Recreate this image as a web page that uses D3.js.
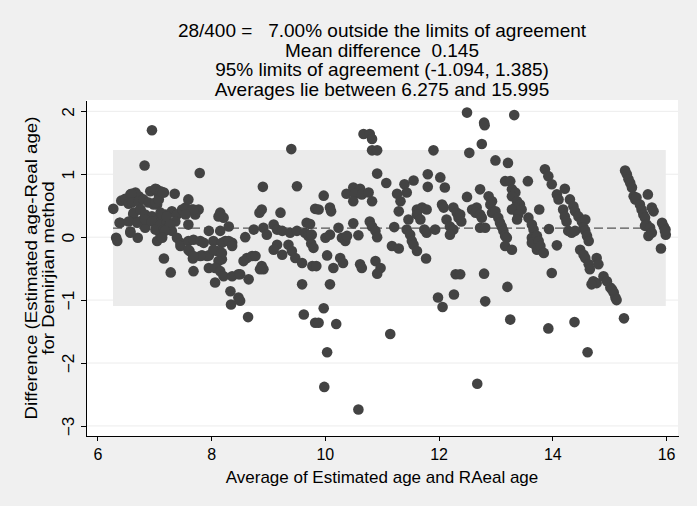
<!DOCTYPE html>
<html>
<head>
<meta charset="utf-8">
<title>Bland-Altman plot</title>
<script src="https://d3js.org/d3.v7.min.js"></script>
<style>
  html, body { margin: 0; padding: 0; background: #f0f0f0; }
  text { font-family: "Liberation Sans", Arial, sans-serif; fill: #000; }
  .axis path, .axis line { stroke: #000; shape-rendering: crispEdges; }
</style>
</head>
<body>
<script>
// averages (x) and differences (y)
var meanAge = [
  6.28,6.33,6.35,6.39,6.42,6.49,6.58,6.67,6.73,6.58,6.71,6.60,6.55,6.63,6.75,6.71,6.81,6.93,7.04,7.08,
  6.99,7.05,6.90,6.99,7.11,7.05,7.17,6.84,7.11,6.96,6.83,6.61,6.73,6.81,6.90,7.02,7.08,6.64,6.76,6.84,
  6.96,7.11,7.20,7.31,7.40,7.49,7.55,7.66,7.78,7.72,6.40,6.55,6.70,6.84,6.96,7.11,7.22,7.37,7.60,7.02,
  7.17,7.31,6.58,7.02,7.11,7.17,7.36,7.60,
  7.80,7.15,7.14,7.22,7.28,7.19,7.14,7.69,7.55,7.40,7.46,7.46,7.60,7.69,7.81,7.87,7.62,7.68,7.29,7.69,
  7.84,7.96,7.93,7.81,7.96,8.04,8.16,8.22,8.31,8.13,8.16,8.25,8.37,8.19,8.31,8.37,8.10,8.19,8.04,8.19,
  8.13,7.96,8.07,8.16,8.22,8.37,8.07,8.34,8.35,8.48,8.48,7.60,7.69,
  9.41,8.91,9.51,8.85,8.89,9.22,8.75,8.60,8.92,8.98,9.10,9.16,9.25,9.39,9.51,9.68,9.65,9.71,9.76,9.16,
  9.10,9.25,9.36,9.42,9.48,9.60,9.78,8.63,8.72,8.78,8.57,8.51,8.66,8.89,8.92,8.86,9.60,8.51,8.65,9.63,
  9.83,9.83,
  10.68,10.79,10.83,10.83,10.92,10.92,11.08,9.98,9.89,10.09,10.11,10.38,10.50,10.62,10.53,10.65,10.77,10.83,10.50,9.74,
  10.24,10.50,10.79,10.83,10.89,10.92,10.01,10.09,10.30,10.36,10.39,10.59,9.77,9.80,10.04,9.85,10.15,10.27,10.32,10.62,
  10.65,10.89,10.98,10.92,10.09,9.98,9.89,10.20,10.04,11.15,9.99,10.59,
  11.91,11.81,12.03,11.81,12.11,11.40,11.56,11.44,11.27,11.33,11.30,11.62,11.71,11.79,11.62,11.68,12.06,12.09,12.26,12.32,
  12.35,11.47,11.44,11.50,11.22,12.14,12.20,12.26,12.20,11.75,11.79,11.94,12.40,11.53,11.56,11.62,11.18,11.30,11.78,12.30,
  12.27,11.99,12.07,
  12.50,12.80,12.81,13.33,12.76,12.54,13.00,13.22,13.17,13.26,13.29,13.35,13.29,13.38,13.43,13.35,13.29,13.46,13.40,13.38,
  13.57,12.50,12.73,12.88,12.94,12.91,12.59,12.67,12.65,12.73,12.76,12.38,12.94,13.00,13.05,13.08,13.11,13.14,13.17,13.20,
  13.17,13.29,12.73,12.82,13.58,13.64,13.67,13.64,13.70,13.73,13.64,13.77,12.38,12.80,13.21,12.82,13.26,12.68,
  13.87,13.93,13.99,14.08,14.11,14.22,14.31,14.37,14.40,14.46,14.52,14.58,14.19,14.22,14.25,13.94,14.28,14.34,14.40,14.55,
  14.58,14.61,14.64,13.73,13.76,13.79,13.85,14.08,14.49,14.55,14.58,14.64,14.66,14.78,14.81,13.99,14.72,14.78,14.69,14.90,
  14.96,15.02,15.08,15.11,13.93,14.39,14.62,
  15.28,15.31,15.34,15.37,15.40,15.43,15.46,15.48,15.68,15.54,15.57,15.60,15.63,15.75,15.78,15.66,15.63,15.72,15.75,15.69,
  15.93,15.96,15.99,15.995,15.98,15.91,15.05,15.13,15.26
];
var diffAge = [
  0.45,-0.01,-0.06,0.23,0.58,0.61,0.68,0.71,0.65,0.09,-0.01,0.69,0.53,0.37,0.44,0.25,0.28,0.73,0.76,0.68,
  0.52,0.52,0.28,0.28,0.31,-0.06,-0.34,0.15,0.04,1.70,1.14,0.55,0.57,0.60,0.55,0.55,0.60,0.39,0.44,0.36,
  0.33,0.39,0.36,0.41,0.36,0.44,0.47,0.44,0.44,0.36,0.23,0.25,0.23,0.28,0.25,0.20,0.25,0.25,0.20,0.12,
  0.12,0.10,0.07,0.77,0.73,0.71,0.69,0.60,
  1.02,0.71,0.36,0.33,0.20,0.10,-0.01,0.44,0.36,-0.01,-0.09,-0.14,-0.06,-0.04,-0.06,-0.09,-0.22,-0.34,-0.56,-0.54,
  -0.29,-0.29,-0.30,-0.30,0.10,-0.06,0.39,0.31,0.17,0.33,0.10,-0.06,-0.09,-0.09,-0.06,-0.14,-0.22,-0.35,-0.20,-0.25,
  -0.38,-0.49,-0.49,-0.54,-0.62,-0.62,-0.72,-0.86,-1.07,-0.59,-0.96,-0.20,-0.30,
  1.40,0.80,0.81,0.39,0.44,0.39,0.12,0.00,0.15,0.04,0.20,0.12,0.10,0.07,0.10,0.23,0.07,0.02,-0.10,-0.12,
  -0.20,-0.28,-0.12,-0.22,-0.33,-0.41,-0.46,-0.33,-0.30,-0.30,-0.38,-0.59,-0.67,-0.46,-0.51,-0.51,-0.75,-1.01,-1.27,-1.23,
  -1.36,0.45,
  1.64,1.64,1.56,1.38,1.38,1.01,0.86,0.66,0.44,0.47,0.41,0.69,0.79,0.77,0.69,0.68,0.71,0.57,0.57,0.21,
  0.15,0.22,0.25,0.17,0.10,0.00,-0.01,0.04,-0.01,-0.06,0.02,0.03,0.04,-0.17,-0.29,-0.46,-0.49,-0.33,-0.41,-0.43,
  -0.49,-0.38,-0.49,-0.58,-0.75,-1.13,-1.36,-1.38,-1.83,-1.54,-2.38,-2.74,
  1.38,1.00,0.95,0.80,0.79,0.84,0.90,0.71,0.69,0.57,0.41,0.44,0.47,0.44,0.36,0.28,0.52,0.47,0.47,0.39,
  0.31,0.28,0.12,0.04,0.16,0.28,0.17,0.12,0.04,0.12,0.07,0.12,0.25,-0.06,-0.12,-0.22,-0.14,-0.18,-0.34,-0.59,
  -0.91,-0.96,-1.11,
  1.98,1.82,1.78,1.94,1.48,1.34,1.22,1.18,0.89,0.89,0.76,0.71,0.65,0.57,0.52,0.47,0.44,0.44,0.36,0.28,
  0.89,0.64,0.76,0.65,0.57,0.52,0.44,0.47,0.39,0.36,0.31,0.36,0.39,0.41,0.31,0.23,0.17,0.10,0.02,-0.01,
  -0.14,-0.20,0.15,0.15,0.31,0.20,0.12,-0.01,-0.12,-0.20,-0.09,0.44,-0.59,-0.58,-0.79,-1.02,-1.31,-2.33,
  1.08,0.97,0.84,0.68,0.60,0.77,0.60,0.49,0.41,0.33,0.25,0.28,0.44,0.33,0.25,0.13,0.10,0.07,0.10,0.15,
  0.10,0.02,-0.06,0.02,-0.06,-0.14,-0.25,-0.13,-0.20,-0.28,-0.33,-0.43,-0.51,-0.33,-0.43,-0.57,-0.70,-0.73,-0.75,-0.62,
  -0.70,-0.80,-0.88,-0.96,-1.45,-1.35,-1.83,
  1.06,1.00,0.92,0.86,0.79,0.65,0.60,0.63,0.68,0.52,0.44,0.36,0.31,0.47,0.41,0.20,0.18,0.15,0.07,0.02,
  0.23,0.17,0.12,0.04,0.10,-0.18,-0.83,-1.00,-1.29
];

var meanDiff = 0.145;
var limits = [-1.094, 1.385];
var avgRange = [6.275, 15.995];
var xTicks = [6, 8, 10, 12, 14, 16];
var yTicks = [-3, -2, -1, 0, 1, 2];
var titleLines = [
  "28/400 =   7.00% outside the limits of agreement",
  "Mean difference  0.145",
  "95% limits of agreement (-1.094, 1.385)",
  "Averages lie between 6.275 and 15.995"
];

var W = 697, H = 506;
var pLeft = 86, pRight = 678, pTop = 100, pBottom = 436;

var x = d3.scaleLinear().domain([5.80, 16.21]).range([pLeft, pRight]);
var y = d3.scaleLinear().domain([-3.16, 2.18]).range([pBottom, pTop]);

var svg = d3.select("body").append("svg").attr("width", W).attr("height", H);

svg.append("rect").attr("width", W).attr("height", H).attr("fill", "#f0f0f0");
svg.append("rect").attr("x", pLeft).attr("y", pTop)
  .attr("width", pRight - pLeft).attr("height", pBottom - pTop).attr("fill", "#fff");

// grid
svg.append("g").selectAll("line").data(yTicks).enter().append("line")
  .attr("x1", pLeft).attr("x2", pRight)
  .attr("y1", function(d){ return y(d); }).attr("y2", function(d){ return y(d); })
  .attr("stroke", "#ececec").attr("stroke-width", 1);

// limits of agreement band
svg.append("rect")
  .attr("x", x(avgRange[0])).attr("width", x(avgRange[1]) - x(avgRange[0]))
  .attr("y", y(limits[1])).attr("height", y(limits[0]) - y(limits[1]))
  .attr("fill", "#ebebeb");

svg.append("line")
  .attr("x1", x(avgRange[0])).attr("x2", x(avgRange[1]))
  .attr("y1", y(meanDiff)).attr("y2", y(meanDiff))
  .attr("stroke", "#555").attr("stroke-width", 1.2).attr("stroke-dasharray", "9,4");

// points
var pts = meanAge.map(function(d, i){ return [d, diffAge[i]]; });
svg.append("g").selectAll("circle").data(pts).enter().append("circle")
  .attr("cx", function(d){ return x(d[0]); })
  .attr("cy", function(d){ return y(d[1]); })
  .attr("r", 5.3)
  .attr("fill", "#434343");

// axes
var xAxis = svg.append("g").attr("class", "axis")
  .attr("transform", "translate(0," + pBottom + ")")
  .call(d3.axisBottom(x).tickValues(xTicks).tickFormat(d3.format("d"))
    .tickSize(5).tickPadding(8).tickSizeOuter(0));
xAxis.selectAll("text").style("font-size", "16px");

var yAxis = svg.append("g").attr("class", "axis")
  .attr("transform", "translate(" + pLeft + ",0)")
  .call(d3.axisLeft(y).tickValues(yTicks).tickFormat(d3.format("d"))
    .tickSize(5).tickSizeOuter(0));
yAxis.selectAll(".tick text")
  .style("font-size", "16px")
  .attr("text-anchor", "middle")
  .attr("transform", "rotate(-90) scale(1.08,1)")
  .attr("x", 0)
  .attr("y", -12)
  .attr("dy", 0);

// axis titles
svg.append("text")
  .attr("x", (pLeft + pRight) / 2).attr("y", 483)
  .attr("text-anchor", "middle").style("font-size", "17px")
  .text("Average of Estimated age and RAeal age");

var yt = svg.append("text")
  .attr("transform", "translate(37," + (pTop + pBottom) / 2 + ") rotate(-90) scale(1.1,1)")
  .attr("text-anchor", "middle").style("font-size", "17px");
yt.append("tspan").attr("x", 0).attr("y", 0).text("Difference (Estimated age-Real age)");
yt.append("tspan").attr("x", 0).attr("y", 17).text("for Demirjian method");

// title
svg.append("g").selectAll("text").data(titleLines).enter().append("text")
  .attr("x", (pLeft + pRight) / 2)
  .attr("y", function(d, i){ return 37 + i * 19.6; })
  .attr("text-anchor", "middle")
  .attr("xml:space", "preserve")
  .style("white-space", "pre")
  .style("font-size", "19px")
  .text(function(d){ return d; });
</script>
</body>
</html>
